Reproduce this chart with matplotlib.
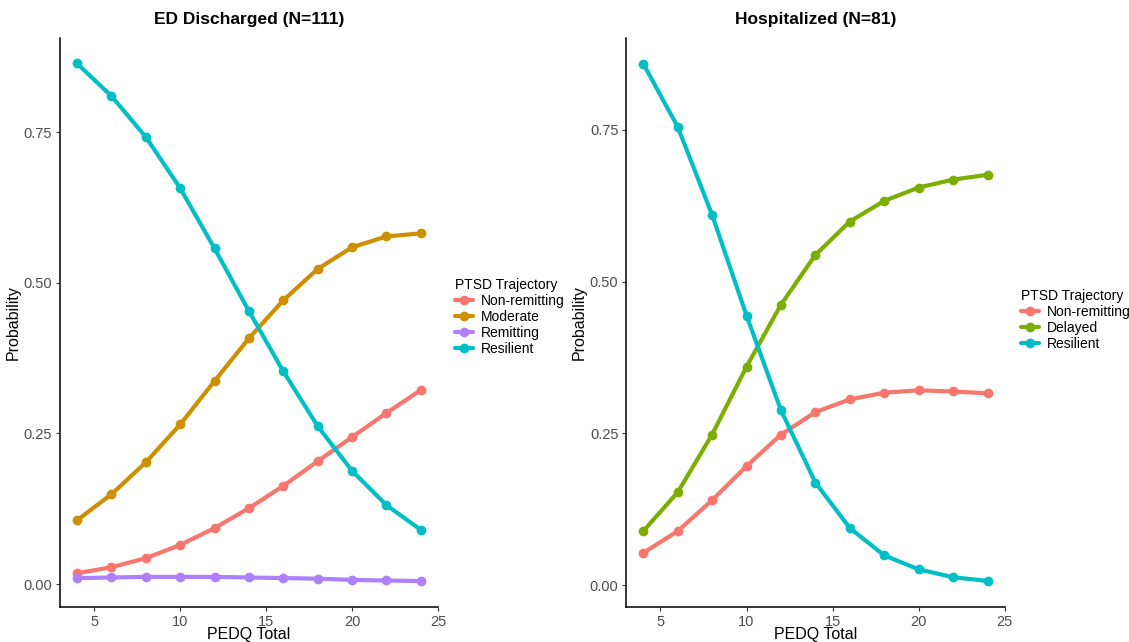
import matplotlib
matplotlib.use("Agg")
import matplotlib.pyplot as plt

plt.rcParams['font.family'] = ['Liberation Sans', 'DejaVu Sans']

pedq = [4, 6, 8, 10, 12, 14, 16, 18, 20, 22, 24]

# ED Discharged (N=111)
ed_labels = ["Non-remitting", "Moderate", "Remitting", "Resilient"]
ed_nonremitting = [0.018, 0.028, 0.043, 0.065, 0.093, 0.126, 0.163, 0.204, 0.244, 0.284, 0.322]
ed_moderate = [0.106, 0.149, 0.202, 0.265, 0.337, 0.408, 0.471, 0.523, 0.559, 0.577, 0.582]
ed_remitting = [0.010, 0.011, 0.012, 0.012, 0.012, 0.011, 0.010, 0.009, 0.007, 0.006, 0.005]
ed_resilient = [0.864, 0.810, 0.742, 0.657, 0.557, 0.453, 0.353, 0.262, 0.188, 0.131, 0.090]

# Hospitalized (N=81)
hosp_labels = ["Non-remitting", "Delayed", "Resilient"]
hosp_nonremitting = [0.053, 0.089, 0.140, 0.196, 0.248, 0.285, 0.306, 0.317, 0.321, 0.319, 0.316]
hosp_delayed = [0.089, 0.153, 0.248, 0.360, 0.462, 0.544, 0.599, 0.633, 0.655, 0.668, 0.676]
hosp_resilient = [0.859, 0.755, 0.610, 0.444, 0.288, 0.169, 0.094, 0.049, 0.026, 0.013, 0.007]

yticks = [0.00, 0.25, 0.50, 0.75]
ytick_labels = ["0.00", "0.25", "0.50", "0.75"]
xticks = [5, 10, 15, 20, 25]

col_nonrem = "#F8766D"
col_mod = "#CD8F00"
col_rem = "#AE7FFF"
col_res = "#00BFC4"
col_del = "#7CAE00"

fig = plt.figure(figsize=(11.29, 6.42), dpi=100)
ax1 = fig.add_axes([0.053, 0.0545, 0.335, 0.887])
ax2 = fig.add_axes([0.5545, 0.0545, 0.3355, 0.887])


def style(ax, title):
    for s in ["top", "right"]:
        ax.spines[s].set_visible(False)
    for s in ["left", "bottom"]:
        ax.spines[s].set_linewidth(1.1)
        ax.spines[s].set_color("black")
    ax.set_xlim(3, 25)
    ax.set_xticks(xticks)
    ax.set_yticks(yticks)
    ax.set_yticklabels(ytick_labels)
    ax.tick_params(axis="both", labelsize=10.5, colors="#333333", length=3, width=0.8,
                   labelcolor="#4D4D4D", pad=2.5)
    ax.set_xlabel("PEDQ Total", fontsize=11.5, labelpad=-1)
    ax.set_ylabel("Probability", fontsize=11.5, labelpad=2)
    ax.set_title(title, fontsize=12.5, fontweight="bold", pad=10)


lw = 3.0
ms = 6
series1 = [(ed_nonremitting, col_nonrem), (ed_moderate, col_mod), (ed_remitting, col_rem), (ed_resilient, col_res)]
for (vals, c), lab in zip(series1, ed_labels):
    ax1.plot(pedq, vals, color=c, lw=lw, marker="o", ms=ms, label=lab, solid_capstyle="round")
ax1.set_ylim(-0.038, 0.907)
style(ax1, "ED Discharged (N=111)")

series2 = [(hosp_nonremitting, col_nonrem), (hosp_delayed, col_del), (hosp_resilient, col_res)]
for (vals, c), lab in zip(series2, hosp_labels):
    ax2.plot(pedq, vals, color=c, lw=lw, marker="o", ms=ms, label=lab, solid_capstyle="round")
ax2.set_ylim(-0.036, 0.902)
style(ax2, "Hospitalized (N=81)")

leg_kw = dict(frameon=False, fontsize=10, title="PTSD Trajectory", title_fontsize=10,
              handlelength=1.3, handletextpad=0.6, labelspacing=0.15, alignment="left",
              loc="center left", borderaxespad=0)
fig.legend(handles=ax1.get_lines(), bbox_to_anchor=(0.398, 1 - 317 / 642), **leg_kw)
fig.legend(handles=ax2.get_lines(), bbox_to_anchor=(0.899, 1 - 320 / 642), **leg_kw)

fig.savefig("out.png", dpi=100)
